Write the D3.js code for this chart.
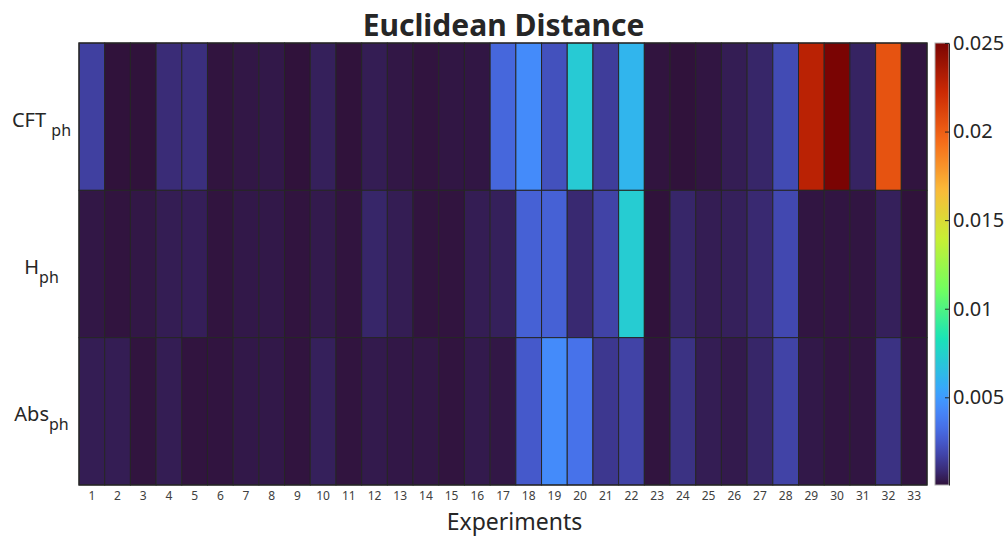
<!DOCTYPE html>
<html>
<head>
<meta charset="utf-8">
<script src="https://cdn.jsdelivr.net/npm/d3@7"></script>
<style>
  body { margin: 0; background: #fff; }
  svg { font-family: 'Noto Sans', sans-serif; }
</style>
</head>
<body>
<div id="chart"></div>
<script>
const experiments = ['1','2','3','4','5','6','7','8','9','10','11','12','13','14','15','16','17',
  '18','19','20','21','22','23','24','25','26','27','28','29','30','31','32','33'];
const rowNames = ['CFT', 'H', 'Abs'];
const rowSub = 'ph';

const cftPh = [0.0016, 0.00005, 0.00005, 0.0009, 0.001, 0.0001, 0.0002, 0.00025, 0.00005, 0.0005, 0.00005,
  0.0004, 0.0002, 0.0001, 0.00018, 0.00018, 0.003, 0.0044, 0.0022, 0.0071, 0.0015, 0.0061,
  0.0001, 0.00005, 0.00015, 0.0004, 0.0007, 0.002, 0.0228, 0.025, 0.0006, 0.0205, 0.0001];
const hPh = [0.0002, 0.0001, 0.0002, 0.0004, 0.00045, 0.0001, 0.00025, 0.00025, 0.0001, 0.0003, 0.0001,
  0.0007, 0.0004, 0.0001, 0.0001, 0.0004, 0.0005, 0.0028, 0.0028, 0.0008, 0.0017, 0.0072,
  0.00005, 0.0007, 0.0004, 0.0005, 0.0008, 0.0019, 0.00015, 0.00015, 0.00015, 0.0005, 0.00005];
const absPh = [0.0004, 0.0004, 0.0001, 0.0004, 0.0001, 0.00012, 0.00025, 0.00025, 0.0001, 0.0005, 0.0001,
  0.0003, 0.00022, 0.0002, 0.0001, 0.0003, 0.0002, 0.0025, 0.0044, 0.0034, 0.0013, 0.0017,
  0.0001, 0.0011, 0.0004, 0.0003, 0.0007, 0.0017, 0.00025, 0.00015, 0.00015, 0.0011, 0.0001];
const colorbarTicks = [0.005, 0.01, 0.015, 0.02, 0.025];

// turbo colormap (MATLAB / Google), finer at the low end
const turboStops = [
  [0, '#30123b'], [0.0314, '#392a73'], [0.0667, '#4143a7'], [0.098, '#4559cb'],
  [0.133, '#4771e9'], [0.165, '#4685f8'], [0.196, '#4099ff'], [0.222, '#36aaf9'],
  [0.333, '#1ae4b6'], [0.444, '#72fe5e'], [0.556, '#c7ef34'], [0.667, '#faba39'],
  [0.778, '#f66b19'], [0.889, '#cb2a04'], [1, '#7a0403']
];
const turbo = d3.scaleLinear()
  .domain(turboStops.map(d => d[0]))
  .range(turboStops.map(d => d[1]))
  .interpolate(d3.interpolateRgb)
  .clamp(true);

const rows = [cftPh, hPh, absPh];
const cells = [];
rows.forEach((vals, r) => vals.forEach((v, c) => cells.push({row: rowNames[r], exp: experiments[c], value: v})));

const margin = {top: 43, right: 79, bottom: 52, left: 79};
const width = 1006 - margin.left - margin.right;
const height = 537 - margin.top - margin.bottom;

const svg = d3.select('#chart')
  .append('svg')
  .attr('width', 1006)
  .attr('height', 537);
const g = svg.append('g')
  .attr('transform', `translate(${margin.left}, ${margin.top})`);

const x = d3.scaleBand().domain(experiments).range([0, width]);
const y = d3.scaleBand().domain(rowNames).range([0, height]);
const extent = d3.extent(cells, d => d.value);
const color = d3.scaleSequential(extent, turbo);

g.selectAll('.cell')
  .data(cells)
  .join('rect')
  .attr('class', 'cell')
  .attr('x', d => x(d.exp))
  .attr('y', d => y(d.row))
  .attr('width', x.bandwidth())
  .attr('height', y.bandwidth())
  .attr('fill', d => color(d.value))
  .attr('stroke', '#262626')
  .attr('stroke-width', 1);

g.append('rect')
  .attr('width', width)
  .attr('height', height)
  .attr('fill', 'none')
  .attr('stroke', '#262626')
  .attr('stroke-width', 1.2);

// x tick labels
g.selectAll('.xlab')
  .data(experiments)
  .join('text')
  .attr('class', 'xlab')
  .attr('x', d => x(d) + x.bandwidth() / 2)
  .attr('y', height + 15)
  .attr('text-anchor', 'middle')
  .attr('font-size', 12)
  .attr('fill', '#404040')
  .text(d => d);

// y labels with subscript
const ylab = g.selectAll('.ylab')
  .data(rowNames)
  .join('text')
  .attr('class', 'ylab')
  .attr('x', -37.5)
  .attr('y', d => y(d) + y.bandwidth() / 2 + 10)
  .attr('text-anchor', 'middle')
  .attr('font-size', 20)
  .attr('fill', '#262626');
ylab.append('tspan').text(d => d === 'CFT' ? d + ' ' : d);
ylab.append('tspan').attr('dy', 9).attr('font-size', 16).text(rowSub);

// title and axis label
svg.append('text')
  .attr('x', 503.5).attr('y', 36)
  .attr('text-anchor', 'middle')
  .attr('font-size', 30)
  .attr('font-weight', 'bold')
  .attr('fill', '#262626')
  .text('Euclidean Distance');
svg.append('text')
  .attr('x', 514.5).attr('y', 530)
  .attr('text-anchor', 'middle')
  .attr('font-size', 23)
  .attr('fill', '#262626')
  .text('Experiments');

// colorbar
const cbX = 935, cbW = 14;
const cy = d3.scaleLinear().domain(extent).range([margin.top + height, margin.top]);
const grad = svg.append('defs').append('linearGradient')
  .attr('id', 'cbgrad')
  .attr('x1', 0).attr('y1', 1).attr('x2', 0).attr('y2', 0);
grad.selectAll('stop')
  .data(d3.range(0, 1.0001, 0.01))
  .join('stop')
  .attr('offset', d => d)
  .attr('stop-color', d => turbo(d));
svg.append('rect')
  .attr('x', cbX).attr('y', margin.top)
  .attr('width', cbW).attr('height', height)
  .attr('fill', 'url(#cbgrad)')
  .attr('stroke', '#b0b0b0')
  .attr('stroke-width', 1);
const cbAxis = svg.append('g')
  .attr('transform', `translate(${cbX + cbW}, 0)`)
  .call(d3.axisRight(cy).tickValues(colorbarTicks).tickSize(0).tickPadding(4).tickFormat(d3.format('')))
  .call(a => a.select('.domain').attr('stroke', '#262626'));
cbAxis.selectAll('.tick text').attr('font-size', 20).attr('fill', '#262626').attr('font-family', "'Noto Sans', sans-serif");
cbAxis.selectAll('.tick').append('line')
  .attr('x1', -4).attr('x2', 0)
  .attr('stroke', '#262626');
</script>
</body>
</html>
